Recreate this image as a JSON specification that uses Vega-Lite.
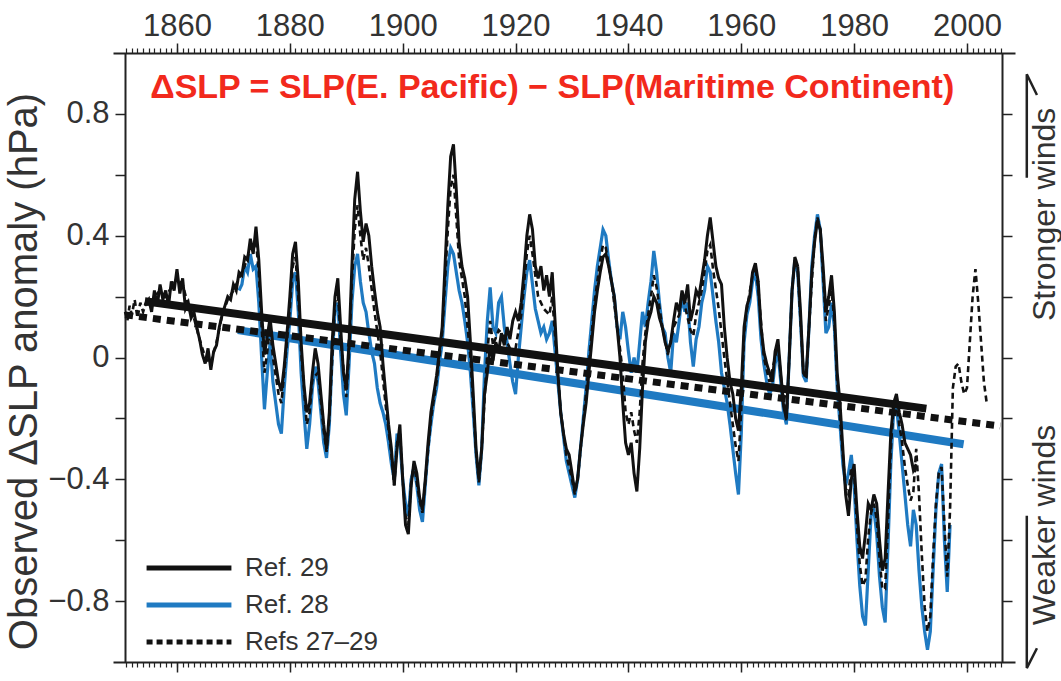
{
"$schema": "https://vega.github.io/schema/vega-lite/v6.json",
"width": 902, "height": 609,
"autosize": {"type": "none"},
"padding": {"left": 113, "top": 53, "right": 46, "bottom": 19},
"background": "white",
"config": {
 "view": {"stroke": null},
 "font": "Liberation Sans",
 "axis": {"domainColor": "#222", "domainWidth": 2, "tickColor": "#222", "tickWidth": 1.5, "labelFont": "Liberation Sans", "labelFontSize": 31, "labelColor": "#333", "titleFont": "Liberation Sans", "titleFontWeight": "normal", "titleColor": "#333", "grid": false}
},
"datasets": {
"ref29": [
{"s":"Ref. 29","year":1854.3,"v":0.17},{"s":"Ref. 29","year":1855,"v":0.19},{"s":"Ref. 29","year":1855.5,"v":0.15},{"s":"Ref. 29","year":1856,"v":0.22},{"s":"Ref. 29","year":1856.5,"v":0.17},{"s":"Ref. 29","year":1857,"v":0.24},{"s":"Ref. 29","year":1857.5,"v":0.19},{"s":"Ref. 29","year":1858,"v":0.22},{"s":"Ref. 29","year":1858.5,"v":0.17},{"s":"Ref. 29","year":1859,"v":0.25},{"s":"Ref. 29","year":1859.5,"v":0.22},{"s":"Ref. 29","year":1860,"v":0.29},{"s":"Ref. 29","year":1860.5,"v":0.21},{"s":"Ref. 29","year":1861,"v":0.26},{"s":"Ref. 29","year":1861.5,"v":0.16},{"s":"Ref. 29","year":1862,"v":0.18},{"s":"Ref. 29","year":1862.5,"v":0.13},{"s":"Ref. 29","year":1863,"v":0.15},{"s":"Ref. 29","year":1863.5,"v":0.10},{"s":"Ref. 29","year":1864,"v":0.06},{"s":"Ref. 29","year":1864.5,"v":0.01},{"s":"Ref. 29","year":1865,"v":-0.02},{"s":"Ref. 29","year":1865.5,"v":0.03},{"s":"Ref. 29","year":1866,"v":-0.04},{"s":"Ref. 29","year":1866.5,"v":0.02},{"s":"Ref. 29","year":1867,"v":0.04},{"s":"Ref. 29","year":1867.5,"v":0.10},{"s":"Ref. 29","year":1868,"v":0.14},{"s":"Ref. 29","year":1868.5,"v":0.17},{"s":"Ref. 29","year":1869,"v":0.20},{"s":"Ref. 29","year":1869.5,"v":0.19},{"s":"Ref. 29","year":1870,"v":0.24},{"s":"Ref. 29","year":1870.5,"v":0.22},{"s":"Ref. 29","year":1871,"v":0.28},{"s":"Ref. 29","year":1871.5,"v":0.27},{"s":"Ref. 29","year":1872,"v":0.33},{"s":"Ref. 29","year":1872.5,"v":0.32},{"s":"Ref. 29","year":1873,"v":0.39},{"s":"Ref. 29","year":1873.5,"v":0.34},{"s":"Ref. 29","year":1874,"v":0.43},{"s":"Ref. 29","year":1874.5,"v":0.32},{"s":"Ref. 29","year":1875,"v":0.15},{"s":"Ref. 29","year":1875.5,"v":0.01},{"s":"Ref. 29","year":1876,"v":0.07},{"s":"Ref. 29","year":1876.5,"v":0.13},{"s":"Ref. 29","year":1877,"v":0.04},{"s":"Ref. 29","year":1877.5,"v":-0.02},{"s":"Ref. 29","year":1878,"v":-0.08},{"s":"Ref. 29","year":1878.5,"v":-0.11},{"s":"Ref. 29","year":1879,"v":-0.03},{"s":"Ref. 29","year":1879.5,"v":0.08},{"s":"Ref. 29","year":1880,"v":0.20},{"s":"Ref. 29","year":1880.5,"v":0.34},{"s":"Ref. 29","year":1881,"v":0.38},{"s":"Ref. 29","year":1881.5,"v":0.25},{"s":"Ref. 29","year":1882,"v":0.05},{"s":"Ref. 29","year":1882.5,"v":-0.09},{"s":"Ref. 29","year":1883,"v":-0.18},{"s":"Ref. 29","year":1883.5,"v":-0.15},{"s":"Ref. 29","year":1884,"v":-0.05},{"s":"Ref. 29","year":1884.5,"v":0.03},{"s":"Ref. 29","year":1885,"v":-0.02},{"s":"Ref. 29","year":1885.5,"v":-0.12},{"s":"Ref. 29","year":1886,"v":-0.22},{"s":"Ref. 29","year":1886.5,"v":-0.30},{"s":"Ref. 29","year":1887,"v":-0.18},{"s":"Ref. 29","year":1887.5,"v":0.05},{"s":"Ref. 29","year":1888,"v":0.20},{"s":"Ref. 29","year":1888.5,"v":0.26},{"s":"Ref. 29","year":1889,"v":0.10},{"s":"Ref. 29","year":1889.5,"v":-0.05},{"s":"Ref. 29","year":1890,"v":-0.10},{"s":"Ref. 29","year":1890.5,"v":0.05},{"s":"Ref. 29","year":1891,"v":0.30},{"s":"Ref. 29","year":1891.5,"v":0.52},{"s":"Ref. 29","year":1892,"v":0.61},{"s":"Ref. 29","year":1892.5,"v":0.48},{"s":"Ref. 29","year":1893,"v":0.38},{"s":"Ref. 29","year":1893.5,"v":0.44},{"s":"Ref. 29","year":1894,"v":0.40},{"s":"Ref. 29","year":1894.5,"v":0.30},{"s":"Ref. 29","year":1895,"v":0.22},{"s":"Ref. 29","year":1895.5,"v":0.15},{"s":"Ref. 29","year":1896,"v":0.10},{"s":"Ref. 29","year":1896.5,"v":-0.02},{"s":"Ref. 29","year":1897,"v":-0.12},{"s":"Ref. 29","year":1897.5,"v":-0.22},{"s":"Ref. 29","year":1898,"v":-0.30},{"s":"Ref. 29","year":1898.5,"v":-0.42},{"s":"Ref. 29","year":1899,"v":-0.30},{"s":"Ref. 29","year":1899.5,"v":-0.22},{"s":"Ref. 29","year":1900,"v":-0.40},{"s":"Ref. 29","year":1900.5,"v":-0.55},{"s":"Ref. 29","year":1901,"v":-0.58},{"s":"Ref. 29","year":1901.5,"v":-0.42},{"s":"Ref. 29","year":1902,"v":-0.34},{"s":"Ref. 29","year":1902.5,"v":-0.38},{"s":"Ref. 29","year":1903,"v":-0.46},{"s":"Ref. 29","year":1903.5,"v":-0.50},{"s":"Ref. 29","year":1904,"v":-0.40},{"s":"Ref. 29","year":1904.5,"v":-0.28},{"s":"Ref. 29","year":1905,"v":-0.18},{"s":"Ref. 29","year":1905.5,"v":-0.12},{"s":"Ref. 29","year":1906,"v":-0.06},{"s":"Ref. 29","year":1906.5,"v":0.02},{"s":"Ref. 29","year":1907,"v":0.10},{"s":"Ref. 29","year":1907.5,"v":0.30},{"s":"Ref. 29","year":1908,"v":0.50},{"s":"Ref. 29","year":1908.5,"v":0.66},{"s":"Ref. 29","year":1909,"v":0.70},{"s":"Ref. 29","year":1909.5,"v":0.55},{"s":"Ref. 29","year":1910,"v":0.38},{"s":"Ref. 29","year":1910.5,"v":0.30},{"s":"Ref. 29","year":1911,"v":0.26},{"s":"Ref. 29","year":1911.5,"v":0.20},{"s":"Ref. 29","year":1912,"v":0.05},{"s":"Ref. 29","year":1912.5,"v":-0.12},{"s":"Ref. 29","year":1913,"v":-0.30},{"s":"Ref. 29","year":1913.5,"v":-0.40},{"s":"Ref. 29","year":1914,"v":-0.30},{"s":"Ref. 29","year":1914.5,"v":-0.12},{"s":"Ref. 29","year":1915,"v":-0.05},{"s":"Ref. 29","year":1915.5,"v":0.04},{"s":"Ref. 29","year":1916,"v":-0.01},{"s":"Ref. 29","year":1916.5,"v":0.05},{"s":"Ref. 29","year":1917,"v":0.02},{"s":"Ref. 29","year":1917.5,"v":0.08},{"s":"Ref. 29","year":1918,"v":0.04},{"s":"Ref. 29","year":1918.5,"v":0.10},{"s":"Ref. 29","year":1919,"v":0.06},{"s":"Ref. 29","year":1919.5,"v":0.12},{"s":"Ref. 29","year":1920,"v":0.15},{"s":"Ref. 29","year":1920.5,"v":0.12},{"s":"Ref. 29","year":1921,"v":0.18},{"s":"Ref. 29","year":1921.5,"v":0.28},{"s":"Ref. 29","year":1922,"v":0.40},{"s":"Ref. 29","year":1922.5,"v":0.47},{"s":"Ref. 29","year":1923,"v":0.42},{"s":"Ref. 29","year":1923.5,"v":0.30},{"s":"Ref. 29","year":1924,"v":0.26},{"s":"Ref. 29","year":1924.5,"v":0.30},{"s":"Ref. 29","year":1925,"v":0.22},{"s":"Ref. 29","year":1925.5,"v":0.27},{"s":"Ref. 29","year":1926,"v":0.20},{"s":"Ref. 29","year":1926.5,"v":0.28},{"s":"Ref. 29","year":1927,"v":0.12},{"s":"Ref. 29","year":1927.5,"v":-0.05},{"s":"Ref. 29","year":1928,"v":-0.18},{"s":"Ref. 29","year":1928.5,"v":-0.25},{"s":"Ref. 29","year":1929,"v":-0.30},{"s":"Ref. 29","year":1929.5,"v":-0.32},{"s":"Ref. 29","year":1930,"v":-0.38},{"s":"Ref. 29","year":1930.5,"v":-0.44},{"s":"Ref. 29","year":1931,"v":-0.40},{"s":"Ref. 29","year":1931.5,"v":-0.30},{"s":"Ref. 29","year":1932,"v":-0.22},{"s":"Ref. 29","year":1932.5,"v":-0.15},{"s":"Ref. 29","year":1933,"v":-0.05},{"s":"Ref. 29","year":1933.5,"v":0.05},{"s":"Ref. 29","year":1934,"v":0.15},{"s":"Ref. 29","year":1934.5,"v":0.22},{"s":"Ref. 29","year":1935,"v":0.28},{"s":"Ref. 29","year":1935.5,"v":0.33},{"s":"Ref. 29","year":1936,"v":0.34},{"s":"Ref. 29","year":1936.5,"v":0.30},{"s":"Ref. 29","year":1937,"v":0.25},{"s":"Ref. 29","year":1937.5,"v":0.20},{"s":"Ref. 29","year":1938,"v":0.10},{"s":"Ref. 29","year":1938.5,"v":0.00},{"s":"Ref. 29","year":1939,"v":-0.15},{"s":"Ref. 29","year":1939.5,"v":-0.28},{"s":"Ref. 29","year":1940,"v":-0.32},{"s":"Ref. 29","year":1940.5,"v":-0.28},{"s":"Ref. 29","year":1941,"v":-0.38},{"s":"Ref. 29","year":1941.5,"v":-0.44},{"s":"Ref. 29","year":1942,"v":-0.30},{"s":"Ref. 29","year":1942.5,"v":-0.10},{"s":"Ref. 29","year":1943,"v":0.05},{"s":"Ref. 29","year":1943.5,"v":0.12},{"s":"Ref. 29","year":1944,"v":0.15},{"s":"Ref. 29","year":1944.5,"v":0.20},{"s":"Ref. 29","year":1945,"v":0.18},{"s":"Ref. 29","year":1945.5,"v":0.13},{"s":"Ref. 29","year":1946,"v":0.10},{"s":"Ref. 29","year":1946.5,"v":0.05},{"s":"Ref. 29","year":1947,"v":0.02},{"s":"Ref. 29","year":1947.5,"v":0.05},{"s":"Ref. 29","year":1948,"v":0.12},{"s":"Ref. 29","year":1948.5,"v":0.18},{"s":"Ref. 29","year":1949,"v":0.15},{"s":"Ref. 29","year":1949.5,"v":0.22},{"s":"Ref. 29","year":1950,"v":0.18},{"s":"Ref. 29","year":1950.5,"v":0.24},{"s":"Ref. 29","year":1951,"v":0.12},{"s":"Ref. 29","year":1951.5,"v":0.16},{"s":"Ref. 29","year":1952,"v":0.22},{"s":"Ref. 29","year":1952.5,"v":0.20},{"s":"Ref. 29","year":1953,"v":0.26},{"s":"Ref. 29","year":1953.5,"v":0.32},{"s":"Ref. 29","year":1954,"v":0.40},{"s":"Ref. 29","year":1954.5,"v":0.46},{"s":"Ref. 29","year":1955,"v":0.38},{"s":"Ref. 29","year":1955.5,"v":0.30},{"s":"Ref. 29","year":1956,"v":0.26},{"s":"Ref. 29","year":1956.5,"v":0.24},{"s":"Ref. 29","year":1957,"v":0.10},{"s":"Ref. 29","year":1957.5,"v":0.00},{"s":"Ref. 29","year":1958,"v":-0.08},{"s":"Ref. 29","year":1958.5,"v":-0.12},{"s":"Ref. 29","year":1959,"v":-0.20},{"s":"Ref. 29","year":1959.5,"v":-0.24},{"s":"Ref. 29","year":1960,"v":-0.10},{"s":"Ref. 29","year":1960.5,"v":0.10},{"s":"Ref. 29","year":1961,"v":0.17},{"s":"Ref. 29","year":1961.5,"v":0.20},{"s":"Ref. 29","year":1962,"v":0.28},{"s":"Ref. 29","year":1962.5,"v":0.31},{"s":"Ref. 29","year":1963,"v":0.25},{"s":"Ref. 29","year":1963.5,"v":0.10},{"s":"Ref. 29","year":1964,"v":0.02},{"s":"Ref. 29","year":1964.5,"v":-0.02},{"s":"Ref. 29","year":1965,"v":-0.05},{"s":"Ref. 29","year":1965.5,"v":-0.08},{"s":"Ref. 29","year":1966,"v":0.02},{"s":"Ref. 29","year":1966.5,"v":0.06},{"s":"Ref. 29","year":1967,"v":-0.05},{"s":"Ref. 29","year":1967.5,"v":-0.16},{"s":"Ref. 29","year":1968,"v":-0.20},{"s":"Ref. 29","year":1968.5,"v":0.00},{"s":"Ref. 29","year":1969,"v":0.22},{"s":"Ref. 29","year":1969.5,"v":0.33},{"s":"Ref. 29","year":1970,"v":0.30},{"s":"Ref. 29","year":1970.5,"v":0.15},{"s":"Ref. 29","year":1971,"v":-0.05},{"s":"Ref. 29","year":1971.5,"v":-0.06},{"s":"Ref. 29","year":1972,"v":0.10},{"s":"Ref. 29","year":1972.5,"v":0.28},{"s":"Ref. 29","year":1973,"v":0.38},{"s":"Ref. 29","year":1973.5,"v":0.45},{"s":"Ref. 29","year":1974,"v":0.42},{"s":"Ref. 29","year":1974.5,"v":0.30},{"s":"Ref. 29","year":1975,"v":0.15},{"s":"Ref. 29","year":1975.5,"v":0.20},{"s":"Ref. 29","year":1976,"v":0.27},{"s":"Ref. 29","year":1976.5,"v":0.15},{"s":"Ref. 29","year":1977,"v":-0.05},{"s":"Ref. 29","year":1977.5,"v":-0.15},{"s":"Ref. 29","year":1978,"v":-0.30},{"s":"Ref. 29","year":1978.5,"v":-0.45},{"s":"Ref. 29","year":1979,"v":-0.52},{"s":"Ref. 29","year":1979.5,"v":-0.40},{"s":"Ref. 29","year":1980,"v":-0.35},{"s":"Ref. 29","year":1980.5,"v":-0.50},{"s":"Ref. 29","year":1981,"v":-0.62},{"s":"Ref. 29","year":1981.5,"v":-0.66},{"s":"Ref. 29","year":1982,"v":-0.58},{"s":"Ref. 29","year":1982.5,"v":-0.48},{"s":"Ref. 29","year":1983,"v":-0.50},{"s":"Ref. 29","year":1983.5,"v":-0.45},{"s":"Ref. 29","year":1984,"v":-0.48},{"s":"Ref. 29","year":1984.5,"v":-0.60},{"s":"Ref. 29","year":1985,"v":-0.70},{"s":"Ref. 29","year":1985.5,"v":-0.66},{"s":"Ref. 29","year":1986,"v":-0.45},{"s":"Ref. 29","year":1986.5,"v":-0.25},{"s":"Ref. 29","year":1987,"v":-0.15},{"s":"Ref. 29","year":1987.5,"v":-0.12},{"s":"Ref. 29","year":1988,"v":-0.18},{"s":"Ref. 29","year":1988.5,"v":-0.22},{"s":"Ref. 29","year":1989,"v":-0.28},{"s":"Ref. 29","year":1989.5,"v":-0.30},{"s":"Ref. 29","year":1990,"v":-0.32},{"s":"Ref. 29","year":1990.5,"v":-0.37},{"s":"Ref. 29","year":1991,"v":-0.35}
],
"ref28": [
{"s":"Ref. 28","year":1871,"v":0.22},{"s":"Ref. 28","year":1871.5,"v":0.24},{"s":"Ref. 28","year":1872,"v":0.30},{"s":"Ref. 28","year":1872.5,"v":0.28},{"s":"Ref. 28","year":1873,"v":0.34},{"s":"Ref. 28","year":1873.5,"v":0.29},{"s":"Ref. 28","year":1874,"v":0.30},{"s":"Ref. 28","year":1874.5,"v":0.18},{"s":"Ref. 28","year":1875,"v":0.00},{"s":"Ref. 28","year":1875.5,"v":-0.17},{"s":"Ref. 28","year":1876,"v":-0.05},{"s":"Ref. 28","year":1876.5,"v":0.05},{"s":"Ref. 28","year":1877,"v":-0.08},{"s":"Ref. 28","year":1877.5,"v":-0.15},{"s":"Ref. 28","year":1878,"v":-0.22},{"s":"Ref. 28","year":1878.5,"v":-0.25},{"s":"Ref. 28","year":1879,"v":-0.10},{"s":"Ref. 28","year":1879.5,"v":0.02},{"s":"Ref. 28","year":1880,"v":0.12},{"s":"Ref. 28","year":1880.5,"v":0.25},{"s":"Ref. 28","year":1881,"v":0.28},{"s":"Ref. 28","year":1881.5,"v":0.15},{"s":"Ref. 28","year":1882,"v":-0.05},{"s":"Ref. 28","year":1882.5,"v":-0.18},{"s":"Ref. 28","year":1883,"v":-0.30},{"s":"Ref. 28","year":1883.5,"v":-0.22},{"s":"Ref. 28","year":1884,"v":-0.10},{"s":"Ref. 28","year":1884.5,"v":-0.03},{"s":"Ref. 28","year":1885,"v":-0.08},{"s":"Ref. 28","year":1885.5,"v":-0.18},{"s":"Ref. 28","year":1886,"v":-0.28},{"s":"Ref. 28","year":1886.5,"v":-0.33},{"s":"Ref. 28","year":1887,"v":-0.22},{"s":"Ref. 28","year":1887.5,"v":0.00},{"s":"Ref. 28","year":1888,"v":0.15},{"s":"Ref. 28","year":1888.5,"v":0.18},{"s":"Ref. 28","year":1889,"v":0.02},{"s":"Ref. 28","year":1889.5,"v":-0.12},{"s":"Ref. 28","year":1890,"v":-0.19},{"s":"Ref. 28","year":1890.5,"v":-0.02},{"s":"Ref. 28","year":1891,"v":0.18},{"s":"Ref. 28","year":1891.5,"v":0.30},{"s":"Ref. 28","year":1892,"v":0.34},{"s":"Ref. 28","year":1892.5,"v":0.25},{"s":"Ref. 28","year":1893,"v":0.18},{"s":"Ref. 28","year":1893.5,"v":0.15},{"s":"Ref. 28","year":1894,"v":0.08},{"s":"Ref. 28","year":1894.5,"v":0.02},{"s":"Ref. 28","year":1895,"v":-0.02},{"s":"Ref. 28","year":1895.5,"v":-0.10},{"s":"Ref. 28","year":1896,"v":-0.15},{"s":"Ref. 28","year":1896.5,"v":-0.18},{"s":"Ref. 28","year":1897,"v":-0.22},{"s":"Ref. 28","year":1897.5,"v":-0.28},{"s":"Ref. 28","year":1898,"v":-0.35},{"s":"Ref. 28","year":1898.5,"v":-0.40},{"s":"Ref. 28","year":1899,"v":-0.25},{"s":"Ref. 28","year":1899.5,"v":-0.28},{"s":"Ref. 28","year":1900,"v":-0.40},{"s":"Ref. 28","year":1900.5,"v":-0.48},{"s":"Ref. 28","year":1901,"v":-0.52},{"s":"Ref. 28","year":1901.5,"v":-0.40},{"s":"Ref. 28","year":1902,"v":-0.36},{"s":"Ref. 28","year":1902.5,"v":-0.42},{"s":"Ref. 28","year":1903,"v":-0.50},{"s":"Ref. 28","year":1903.5,"v":-0.54},{"s":"Ref. 28","year":1904,"v":-0.42},{"s":"Ref. 28","year":1904.5,"v":-0.30},{"s":"Ref. 28","year":1905,"v":-0.22},{"s":"Ref. 28","year":1905.5,"v":-0.15},{"s":"Ref. 28","year":1906,"v":-0.10},{"s":"Ref. 28","year":1906.5,"v":-0.02},{"s":"Ref. 28","year":1907,"v":0.05},{"s":"Ref. 28","year":1907.5,"v":0.18},{"s":"Ref. 28","year":1908,"v":0.30},{"s":"Ref. 28","year":1908.5,"v":0.36},{"s":"Ref. 28","year":1909,"v":0.34},{"s":"Ref. 28","year":1909.5,"v":0.28},{"s":"Ref. 28","year":1910,"v":0.22},{"s":"Ref. 28","year":1910.5,"v":0.18},{"s":"Ref. 28","year":1911,"v":0.12},{"s":"Ref. 28","year":1911.5,"v":0.05},{"s":"Ref. 28","year":1912,"v":-0.05},{"s":"Ref. 28","year":1912.5,"v":-0.18},{"s":"Ref. 28","year":1913,"v":-0.32},{"s":"Ref. 28","year":1913.5,"v":-0.42},{"s":"Ref. 28","year":1914,"v":-0.30},{"s":"Ref. 28","year":1914.5,"v":-0.05},{"s":"Ref. 28","year":1915,"v":0.12},{"s":"Ref. 28","year":1915.5,"v":0.23},{"s":"Ref. 28","year":1916,"v":0.10},{"s":"Ref. 28","year":1916.5,"v":0.08},{"s":"Ref. 28","year":1917,"v":0.18},{"s":"Ref. 28","year":1917.5,"v":0.20},{"s":"Ref. 28","year":1918,"v":0.10},{"s":"Ref. 28","year":1918.5,"v":0.05},{"s":"Ref. 28","year":1919,"v":-0.02},{"s":"Ref. 28","year":1919.5,"v":-0.08},{"s":"Ref. 28","year":1920,"v":-0.12},{"s":"Ref. 28","year":1920.5,"v":0.00},{"s":"Ref. 28","year":1921,"v":0.10},{"s":"Ref. 28","year":1921.5,"v":0.20},{"s":"Ref. 28","year":1922,"v":0.28},{"s":"Ref. 28","year":1922.5,"v":0.32},{"s":"Ref. 28","year":1923,"v":0.24},{"s":"Ref. 28","year":1923.5,"v":0.16},{"s":"Ref. 28","year":1924,"v":0.12},{"s":"Ref. 28","year":1924.5,"v":0.08},{"s":"Ref. 28","year":1925,"v":0.10},{"s":"Ref. 28","year":1925.5,"v":0.06},{"s":"Ref. 28","year":1926,"v":0.08},{"s":"Ref. 28","year":1926.5,"v":0.12},{"s":"Ref. 28","year":1927,"v":0.02},{"s":"Ref. 28","year":1927.5,"v":-0.08},{"s":"Ref. 28","year":1928,"v":-0.18},{"s":"Ref. 28","year":1928.5,"v":-0.26},{"s":"Ref. 28","year":1929,"v":-0.34},{"s":"Ref. 28","year":1929.5,"v":-0.38},{"s":"Ref. 28","year":1930,"v":-0.42},{"s":"Ref. 28","year":1930.5,"v":-0.46},{"s":"Ref. 28","year":1931,"v":-0.40},{"s":"Ref. 28","year":1931.5,"v":-0.30},{"s":"Ref. 28","year":1932,"v":-0.20},{"s":"Ref. 28","year":1932.5,"v":-0.10},{"s":"Ref. 28","year":1933,"v":0.02},{"s":"Ref. 28","year":1933.5,"v":0.12},{"s":"Ref. 28","year":1934,"v":0.22},{"s":"Ref. 28","year":1934.5,"v":0.30},{"s":"Ref. 28","year":1935,"v":0.36},{"s":"Ref. 28","year":1935.5,"v":0.42},{"s":"Ref. 28","year":1936,"v":0.40},{"s":"Ref. 28","year":1936.5,"v":0.32},{"s":"Ref. 28","year":1937,"v":0.25},{"s":"Ref. 28","year":1937.5,"v":0.20},{"s":"Ref. 28","year":1938,"v":0.10},{"s":"Ref. 28","year":1938.5,"v":0.06},{"s":"Ref. 28","year":1939,"v":0.15},{"s":"Ref. 28","year":1939.5,"v":0.10},{"s":"Ref. 28","year":1940,"v":0.02},{"s":"Ref. 28","year":1940.5,"v":-0.05},{"s":"Ref. 28","year":1941,"v":0.00},{"s":"Ref. 28","year":1941.5,"v":-0.05},{"s":"Ref. 28","year":1942,"v":0.05},{"s":"Ref. 28","year":1942.5,"v":0.15},{"s":"Ref. 28","year":1943,"v":0.10},{"s":"Ref. 28","year":1943.5,"v":0.18},{"s":"Ref. 28","year":1944,"v":0.25},{"s":"Ref. 28","year":1944.5,"v":0.35},{"s":"Ref. 28","year":1945,"v":0.28},{"s":"Ref. 28","year":1945.5,"v":0.18},{"s":"Ref. 28","year":1946,"v":0.10},{"s":"Ref. 28","year":1946.5,"v":0.08},{"s":"Ref. 28","year":1947,"v":0.00},{"s":"Ref. 28","year":1947.5,"v":-0.05},{"s":"Ref. 28","year":1948,"v":0.08},{"s":"Ref. 28","year":1948.5,"v":0.05},{"s":"Ref. 28","year":1949,"v":0.12},{"s":"Ref. 28","year":1949.5,"v":0.20},{"s":"Ref. 28","year":1950,"v":0.15},{"s":"Ref. 28","year":1950.5,"v":0.18},{"s":"Ref. 28","year":1951,"v":0.05},{"s":"Ref. 28","year":1951.5,"v":-0.03},{"s":"Ref. 28","year":1952,"v":0.06},{"s":"Ref. 28","year":1952.5,"v":0.10},{"s":"Ref. 28","year":1953,"v":0.18},{"s":"Ref. 28","year":1953.5,"v":0.22},{"s":"Ref. 28","year":1954,"v":0.30},{"s":"Ref. 28","year":1954.5,"v":0.28},{"s":"Ref. 28","year":1955,"v":0.20},{"s":"Ref. 28","year":1955.5,"v":0.12},{"s":"Ref. 28","year":1956,"v":0.05},{"s":"Ref. 28","year":1956.5,"v":-0.05},{"s":"Ref. 28","year":1957,"v":-0.10},{"s":"Ref. 28","year":1957.5,"v":-0.15},{"s":"Ref. 28","year":1958,"v":-0.22},{"s":"Ref. 28","year":1958.5,"v":-0.30},{"s":"Ref. 28","year":1959,"v":-0.38},{"s":"Ref. 28","year":1959.5,"v":-0.45},{"s":"Ref. 28","year":1960,"v":-0.25},{"s":"Ref. 28","year":1960.5,"v":0.05},{"s":"Ref. 28","year":1961,"v":0.14},{"s":"Ref. 28","year":1961.5,"v":0.18},{"s":"Ref. 28","year":1962,"v":0.25},{"s":"Ref. 28","year":1962.5,"v":0.28},{"s":"Ref. 28","year":1963,"v":0.20},{"s":"Ref. 28","year":1963.5,"v":0.06},{"s":"Ref. 28","year":1964,"v":-0.02},{"s":"Ref. 28","year":1964.5,"v":-0.08},{"s":"Ref. 28","year":1965,"v":-0.12},{"s":"Ref. 28","year":1965.5,"v":-0.10},{"s":"Ref. 28","year":1966,"v":-0.02},{"s":"Ref. 28","year":1966.5,"v":0.02},{"s":"Ref. 28","year":1967,"v":-0.08},{"s":"Ref. 28","year":1967.5,"v":-0.18},{"s":"Ref. 28","year":1968,"v":-0.22},{"s":"Ref. 28","year":1968.5,"v":0.00},{"s":"Ref. 28","year":1969,"v":0.22},{"s":"Ref. 28","year":1969.5,"v":0.32},{"s":"Ref. 28","year":1970,"v":0.28},{"s":"Ref. 28","year":1970.5,"v":0.12},{"s":"Ref. 28","year":1971,"v":-0.06},{"s":"Ref. 28","year":1971.5,"v":-0.08},{"s":"Ref. 28","year":1972,"v":0.10},{"s":"Ref. 28","year":1972.5,"v":0.30},{"s":"Ref. 28","year":1973,"v":0.40},{"s":"Ref. 28","year":1973.5,"v":0.47},{"s":"Ref. 28","year":1974,"v":0.42},{"s":"Ref. 28","year":1974.5,"v":0.25},{"s":"Ref. 28","year":1975,"v":0.08},{"s":"Ref. 28","year":1975.5,"v":0.10},{"s":"Ref. 28","year":1976,"v":0.18},{"s":"Ref. 28","year":1976.5,"v":0.10},{"s":"Ref. 28","year":1977,"v":-0.10},{"s":"Ref. 28","year":1977.5,"v":-0.22},{"s":"Ref. 28","year":1978,"v":-0.35},{"s":"Ref. 28","year":1978.5,"v":-0.42},{"s":"Ref. 28","year":1979,"v":-0.38},{"s":"Ref. 28","year":1979.5,"v":-0.32},{"s":"Ref. 28","year":1980,"v":-0.42},{"s":"Ref. 28","year":1980.5,"v":-0.60},{"s":"Ref. 28","year":1981,"v":-0.75},{"s":"Ref. 28","year":1981.5,"v":-0.85},{"s":"Ref. 28","year":1982,"v":-0.88},{"s":"Ref. 28","year":1982.5,"v":-0.70},{"s":"Ref. 28","year":1983,"v":-0.52},{"s":"Ref. 28","year":1983.5,"v":-0.50},{"s":"Ref. 28","year":1984,"v":-0.58},{"s":"Ref. 28","year":1984.5,"v":-0.72},{"s":"Ref. 28","year":1985,"v":-0.82},{"s":"Ref. 28","year":1985.5,"v":-0.87},{"s":"Ref. 28","year":1986,"v":-0.62},{"s":"Ref. 28","year":1986.5,"v":-0.35},{"s":"Ref. 28","year":1987,"v":-0.18},{"s":"Ref. 28","year":1987.5,"v":-0.16},{"s":"Ref. 28","year":1988,"v":-0.25},{"s":"Ref. 28","year":1988.5,"v":-0.35},{"s":"Ref. 28","year":1989,"v":-0.45},{"s":"Ref. 28","year":1989.5,"v":-0.55},{"s":"Ref. 28","year":1990,"v":-0.62},{"s":"Ref. 28","year":1990.5,"v":-0.50},{"s":"Ref. 28","year":1991,"v":-0.55},{"s":"Ref. 28","year":1991.5,"v":-0.70},{"s":"Ref. 28","year":1992,"v":-0.82},{"s":"Ref. 28","year":1992.5,"v":-0.90},{"s":"Ref. 28","year":1993,"v":-0.96},{"s":"Ref. 28","year":1993.5,"v":-0.90},{"s":"Ref. 28","year":1994,"v":-0.70},{"s":"Ref. 28","year":1994.5,"v":-0.50},{"s":"Ref. 28","year":1995,"v":-0.38},{"s":"Ref. 28","year":1995.5,"v":-0.35},{"s":"Ref. 28","year":1996,"v":-0.60},{"s":"Ref. 28","year":1996.5,"v":-0.77},{"s":"Ref. 28","year":1997,"v":-0.55}
],
"refs": [
{"s":"Refs 27–29","year":1850.8,"v":0.15},{"s":"Refs 27–29","year":1851.2,"v":0.12},{"s":"Refs 27–29","year":1851.6,"v":0.17},{"s":"Refs 27–29","year":1852,"v":0.14},{"s":"Refs 27–29","year":1852.5,"v":0.19},{"s":"Refs 27–29","year":1853,"v":0.13},{"s":"Refs 27–29","year":1853.5,"v":0.18},{"s":"Refs 27–29","year":1854,"v":0.15},{"s":"Refs 27–29","year":1854.5,"v":0.18},{"s":"Refs 27–29","year":1855,"v":0.17},{"s":"Refs 27–29","year":1856,"v":0.20},{"s":"Refs 27–29","year":1857,"v":0.22},{"s":"Refs 27–29","year":1858,"v":0.20},{"s":"Refs 27–29","year":1859,"v":0.23},{"s":"Refs 27–29","year":1860,"v":0.26},{"s":"Refs 27–29","year":1861,"v":0.24},{"s":"Refs 27–29","year":1862,"v":0.17},{"s":"Refs 27–29","year":1863,"v":0.13},{"s":"Refs 27–29","year":1864,"v":0.06},{"s":"Refs 27–29","year":1865,"v":0.00},{"s":"Refs 27–29","year":1866,"v":-0.02},{"s":"Refs 27–29","year":1867,"v":0.05},{"s":"Refs 27–29","year":1868,"v":0.14},{"s":"Refs 27–29","year":1869,"v":0.19},{"s":"Refs 27–29","year":1870,"v":0.22},{"s":"Refs 27–29","year":1871,"v":0.26},{"s":"Refs 27–29","year":1872,"v":0.30},{"s":"Refs 27–29","year":1873,"v":0.36},{"s":"Refs 27–29","year":1874,"v":0.38},{"s":"Refs 27–29","year":1874.5,"v":0.28},{"s":"Refs 27–29","year":1875,"v":0.10},{"s":"Refs 27–29","year":1875.5,"v":-0.05},{"s":"Refs 27–29","year":1876,"v":0.02},{"s":"Refs 27–29","year":1876.5,"v":0.10},{"s":"Refs 27–29","year":1877,"v":0.00},{"s":"Refs 27–29","year":1878,"v":-0.12},{"s":"Refs 27–29","year":1878.5,"v":-0.15},{"s":"Refs 27–29","year":1879,"v":-0.05},{"s":"Refs 27–29","year":1880,"v":0.16},{"s":"Refs 27–29","year":1880.5,"v":0.30},{"s":"Refs 27–29","year":1881,"v":0.33},{"s":"Refs 27–29","year":1881.5,"v":0.20},{"s":"Refs 27–29","year":1882,"v":0.02},{"s":"Refs 27–29","year":1883,"v":-0.22},{"s":"Refs 27–29","year":1883.5,"v":-0.18},{"s":"Refs 27–29","year":1884,"v":-0.07},{"s":"Refs 27–29","year":1885,"v":-0.05},{"s":"Refs 27–29","year":1886,"v":-0.24},{"s":"Refs 27–29","year":1886.5,"v":-0.31},{"s":"Refs 27–29","year":1887,"v":-0.20},{"s":"Refs 27–29","year":1888,"v":0.18},{"s":"Refs 27–29","year":1888.5,"v":0.22},{"s":"Refs 27–29","year":1889,"v":0.06},{"s":"Refs 27–29","year":1890,"v":-0.13},{"s":"Refs 27–29","year":1890.5,"v":0.02},{"s":"Refs 27–29","year":1891,"v":0.25},{"s":"Refs 27–29","year":1891.5,"v":0.42},{"s":"Refs 27–29","year":1892,"v":0.50},{"s":"Refs 27–29","year":1892.5,"v":0.40},{"s":"Refs 27–29","year":1893,"v":0.32},{"s":"Refs 27–29","year":1893.5,"v":0.36},{"s":"Refs 27–29","year":1894,"v":0.30},{"s":"Refs 27–29","year":1895,"v":0.15},{"s":"Refs 27–29","year":1896,"v":0.02},{"s":"Refs 27–29","year":1897,"v":-0.16},{"s":"Refs 27–29","year":1898,"v":-0.32},{"s":"Refs 27–29","year":1898.5,"v":-0.42},{"s":"Refs 27–29","year":1899,"v":-0.28},{"s":"Refs 27–29","year":1899.5,"v":-0.24},{"s":"Refs 27–29","year":1900,"v":-0.40},{"s":"Refs 27–29","year":1900.5,"v":-0.52},{"s":"Refs 27–29","year":1901,"v":-0.55},{"s":"Refs 27–29","year":1901.5,"v":-0.41},{"s":"Refs 27–29","year":1902,"v":-0.35},{"s":"Refs 27–29","year":1903,"v":-0.47},{"s":"Refs 27–29","year":1903.5,"v":-0.51},{"s":"Refs 27–29","year":1904,"v":-0.41},{"s":"Refs 27–29","year":1905,"v":-0.20},{"s":"Refs 27–29","year":1906,"v":-0.08},{"s":"Refs 27–29","year":1907,"v":0.08},{"s":"Refs 27–29","year":1908,"v":0.42},{"s":"Refs 27–29","year":1908.5,"v":0.56},{"s":"Refs 27–29","year":1909,"v":0.60},{"s":"Refs 27–29","year":1909.5,"v":0.46},{"s":"Refs 27–29","year":1910,"v":0.32},{"s":"Refs 27–29","year":1911,"v":0.20},{"s":"Refs 27–29","year":1912,"v":0.00},{"s":"Refs 27–29","year":1913,"v":-0.31},{"s":"Refs 27–29","year":1913.5,"v":-0.41},{"s":"Refs 27–29","year":1914,"v":-0.30},{"s":"Refs 27–29","year":1915,"v":0.02},{"s":"Refs 27–29","year":1915.5,"v":0.12},{"s":"Refs 27–29","year":1916,"v":0.04},{"s":"Refs 27–29","year":1917,"v":0.09},{"s":"Refs 27–29","year":1918,"v":0.07},{"s":"Refs 27–29","year":1919,"v":0.03},{"s":"Refs 27–29","year":1920,"v":0.03},{"s":"Refs 27–29","year":1921,"v":0.14},{"s":"Refs 27–29","year":1922,"v":0.34},{"s":"Refs 27–29","year":1922.5,"v":0.40},{"s":"Refs 27–29","year":1923,"v":0.34},{"s":"Refs 27–29","year":1924,"v":0.20},{"s":"Refs 27–29","year":1925,"v":0.16},{"s":"Refs 27–29","year":1926,"v":0.14},{"s":"Refs 27–29","year":1926.5,"v":0.20},{"s":"Refs 27–29","year":1927,"v":0.07},{"s":"Refs 27–29","year":1928,"v":-0.18},{"s":"Refs 27–29","year":1929,"v":-0.32},{"s":"Refs 27–29","year":1930,"v":-0.40},{"s":"Refs 27–29","year":1930.5,"v":-0.45},{"s":"Refs 27–29","year":1931,"v":-0.40},{"s":"Refs 27–29","year":1932,"v":-0.21},{"s":"Refs 27–29","year":1933,"v":-0.02},{"s":"Refs 27–29","year":1934,"v":0.18},{"s":"Refs 27–29","year":1935,"v":0.32},{"s":"Refs 27–29","year":1935.5,"v":0.37},{"s":"Refs 27–29","year":1936,"v":0.36},{"s":"Refs 27–29","year":1937,"v":0.25},{"s":"Refs 27–29","year":1938,"v":0.10},{"s":"Refs 27–29","year":1938.5,"v":0.03},{"s":"Refs 27–29","year":1939,"v":-0.05},{"s":"Refs 27–29","year":1939.5,"v":-0.18},{"s":"Refs 27–29","year":1940,"v":-0.22},{"s":"Refs 27–29","year":1940.5,"v":-0.18},{"s":"Refs 27–29","year":1941,"v":-0.24},{"s":"Refs 27–29","year":1941.5,"v":-0.28},{"s":"Refs 27–29","year":1942,"v":-0.18},{"s":"Refs 27–29","year":1942.5,"v":-0.02},{"s":"Refs 27–29","year":1943,"v":0.08},{"s":"Refs 27–29","year":1944,"v":0.20},{"s":"Refs 27–29","year":1944.5,"v":0.27},{"s":"Refs 27–29","year":1945,"v":0.23},{"s":"Refs 27–29","year":1946,"v":0.10},{"s":"Refs 27–29","year":1947,"v":0.01},{"s":"Refs 27–29","year":1948,"v":0.10},{"s":"Refs 27–29","year":1949,"v":0.14},{"s":"Refs 27–29","year":1949.5,"v":0.21},{"s":"Refs 27–29","year":1950,"v":0.17},{"s":"Refs 27–29","year":1951,"v":0.09},{"s":"Refs 27–29","year":1951.5,"v":0.07},{"s":"Refs 27–29","year":1952,"v":0.14},{"s":"Refs 27–29","year":1953,"v":0.22},{"s":"Refs 27–29","year":1954,"v":0.35},{"s":"Refs 27–29","year":1954.5,"v":0.37},{"s":"Refs 27–29","year":1955,"v":0.29},{"s":"Refs 27–29","year":1956,"v":0.16},{"s":"Refs 27–29","year":1957,"v":0.00},{"s":"Refs 27–29","year":1958,"v":-0.15},{"s":"Refs 27–29","year":1959,"v":-0.29},{"s":"Refs 27–29","year":1959.5,"v":-0.34},{"s":"Refs 27–29","year":1960,"v":-0.17},{"s":"Refs 27–29","year":1960.5,"v":0.08},{"s":"Refs 27–29","year":1961,"v":0.16},{"s":"Refs 27–29","year":1962,"v":0.27},{"s":"Refs 27–29","year":1962.5,"v":0.30},{"s":"Refs 27–29","year":1963,"v":0.23},{"s":"Refs 27–29","year":1964,"v":0.00},{"s":"Refs 27–29","year":1965,"v":-0.08},{"s":"Refs 27–29","year":1966,"v":0.00},{"s":"Refs 27–29","year":1966.5,"v":0.04},{"s":"Refs 27–29","year":1967,"v":-0.06},{"s":"Refs 27–29","year":1968,"v":-0.21},{"s":"Refs 27–29","year":1968.5,"v":0.00},{"s":"Refs 27–29","year":1969,"v":0.22},{"s":"Refs 27–29","year":1969.5,"v":0.32},{"s":"Refs 27–29","year":1970,"v":0.29},{"s":"Refs 27–29","year":1971,"v":-0.05},{"s":"Refs 27–29","year":1971.5,"v":-0.07},{"s":"Refs 27–29","year":1972,"v":0.10},{"s":"Refs 27–29","year":1973,"v":0.39},{"s":"Refs 27–29","year":1973.5,"v":0.46},{"s":"Refs 27–29","year":1974,"v":0.42},{"s":"Refs 27–29","year":1975,"v":0.12},{"s":"Refs 27–29","year":1976,"v":0.22},{"s":"Refs 27–29","year":1976.5,"v":0.12},{"s":"Refs 27–29","year":1977,"v":-0.08},{"s":"Refs 27–29","year":1978,"v":-0.32},{"s":"Refs 27–29","year":1978.5,"v":-0.43},{"s":"Refs 27–29","year":1979,"v":-0.45},{"s":"Refs 27–29","year":1979.5,"v":-0.36},{"s":"Refs 27–29","year":1980,"v":-0.38},{"s":"Refs 27–29","year":1980.5,"v":-0.55},{"s":"Refs 27–29","year":1981,"v":-0.68},{"s":"Refs 27–29","year":1981.5,"v":-0.75},{"s":"Refs 27–29","year":1982,"v":-0.73},{"s":"Refs 27–29","year":1982.5,"v":-0.59},{"s":"Refs 27–29","year":1983,"v":-0.51},{"s":"Refs 27–29","year":1983.5,"v":-0.48},{"s":"Refs 27–29","year":1984,"v":-0.53},{"s":"Refs 27–29","year":1984.5,"v":-0.66},{"s":"Refs 27–29","year":1985,"v":-0.76},{"s":"Refs 27–29","year":1985.5,"v":-0.76},{"s":"Refs 27–29","year":1986,"v":-0.54},{"s":"Refs 27–29","year":1986.5,"v":-0.30},{"s":"Refs 27–29","year":1987,"v":-0.16},{"s":"Refs 27–29","year":1987.5,"v":-0.14},{"s":"Refs 27–29","year":1988,"v":-0.22},{"s":"Refs 27–29","year":1988.5,"v":-0.28},{"s":"Refs 27–29","year":1989,"v":-0.36},{"s":"Refs 27–29","year":1989.5,"v":-0.42},{"s":"Refs 27–29","year":1990,"v":-0.47},{"s":"Refs 27–29","year":1990.5,"v":-0.44},{"s":"Refs 27–29","year":1991,"v":-0.30},{"s":"Refs 27–29","year":1991.5,"v":-0.45},{"s":"Refs 27–29","year":1992,"v":-0.65},{"s":"Refs 27–29","year":1992.5,"v":-0.82},{"s":"Refs 27–29","year":1993,"v":-0.90},{"s":"Refs 27–29","year":1993.5,"v":-0.85},{"s":"Refs 27–29","year":1994,"v":-0.65},{"s":"Refs 27–29","year":1994.5,"v":-0.48},{"s":"Refs 27–29","year":1995,"v":-0.38},{"s":"Refs 27–29","year":1995.5,"v":-0.36},{"s":"Refs 27–29","year":1996,"v":-0.55},{"s":"Refs 27–29","year":1996.5,"v":-0.72},{"s":"Refs 27–29","year":1997,"v":-0.50},{"s":"Refs 27–29","year":1997.5,"v":-0.10},{"s":"Refs 27–29","year":1998,"v":-0.03},{"s":"Refs 27–29","year":1998.5,"v":-0.02},{"s":"Refs 27–29","year":1999,"v":-0.08},{"s":"Refs 27–29","year":1999.5,"v":-0.12},{"s":"Refs 27–29","year":2000,"v":-0.10},{"s":"Refs 27–29","year":2000.5,"v":0.05},{"s":"Refs 27–29","year":2001,"v":0.20},{"s":"Refs 27–29","year":2001.5,"v":0.29},{"s":"Refs 27–29","year":2002,"v":0.18},{"s":"Refs 27–29","year":2002.5,"v":0.05},{"s":"Refs 27–29","year":2003,"v":-0.08},{"s":"Refs 27–29","year":2003.5,"v":-0.15}
],
"trends": [
{"s":"Ref. 29","year":1854.3,"v":0.185},{"s":"Ref. 29","year":1992.8,"v":-0.168},
{"s":"Ref. 28","year":1870.8,"v":0.09},{"s":"Ref. 28","year":1999.4,"v":-0.285},
{"s":"Refs 27–29","year":1850.8,"v":0.14},{"s":"Refs 27–29","year":2005.9,"v":-0.225}
],
"heading": [
{"label":"ΔSLP = SLP(E. Pacific) − SLP(Maritime Continent)","year":1926.5,"v":0.885}
],
"notes": [
{"label":"Stronger winds","year":2013.8,"v":0.47},
{"label":"Weaker winds","year":2013.8,"v":-0.55}
],
"arrows": [
{"a":"up","year":2010.6,"v":0.59},{"a":"up","year":2010.6,"v":0.93},{"a":"up","year":2012.4,"v":0.862},
{"a":"down","year":2010.6,"v":-0.52},{"a":"down","year":2010.6,"v":-1.02},{"a":"down","year":2012.4,"v":-0.955}
]
},
"layer": [
{
 "data": {"name": "ref28"},
 "mark": {"type": "line", "strokeWidth": 3.2},
 "encoding": {
  "x": {"field": "year", "type": "quantitative", "scale": {"domain": [1848.66, 2008.51], "nice": false, "zero": false},
        "axis": {"orient": "top", "values": [1860,1880,1900,1920,1940,1960,1980,2000], "tickSize": 10, "labelPadding": 1, "format": "d", "title": null, "domain": true, "labelFlush": false, "labelOverlap": false}},
  "y": {"field": "v", "type": "quantitative", "scale": {"domain": [-1, 1], "nice": false, "zero": false},
        "axis": {"orient": "left", "values": [-0.8,-0.6,-0.4,-0.2,0,0.2,0.4,0.6,0.8], "tickSize": 10, "offset": -12, "labelPadding": 6,
                 "labelExpr": "abs(round(datum.value*10)) % 4 === 0 ? (round(datum.value*10) === 0 ? '0' : format(datum.value, '.1f')) : ''",
                 "title": "Observed ΔSLP anomaly (hPa)", "titleFontSize": 40, "titlePadding": 3, "titleY": 318, "domain": true}},
  "color": {"field": "s", "type": "nominal", "scale": {"domain": ["Ref. 29", "Ref. 28", "Refs 27–29"], "range": ["#111111", "#1f7ac2", "#111111"]},
            "legend": {"orient": "none", "legendX": 59, "legendY": 498, "title": null, "symbolType": "M-3,0H3", "symbolSize": 800, "symbolStrokeWidth": 5, "labelFontSize": 26, "labelColor": "#333", "labelFont": "Liberation Sans", "rowPadding": 7, "labelOffset": 39}},
  "strokeDash": {"field": "s", "type": "nominal", "scale": {"domain": ["Ref. 29", "Ref. 28", "Refs 27–29"], "range": [[1,0],[1,0],[6,4]]},
            "legend": {"orient": "none", "legendX": 59, "legendY": 498, "title": null, "symbolType": "M-3,0H3", "symbolSize": 800, "symbolStrokeWidth": 5, "labelFontSize": 26, "labelColor": "#333", "labelFont": "Liberation Sans", "rowPadding": 7, "labelOffset": 39}}
 }
},
{
 "data": {"name": "trends"},
 "transform": [{"filter": "datum.s === 'Ref. 28'"}],
 "mark": {"type": "line", "strokeWidth": 8, "color": "#1f7ac2"},
 "encoding": {
  "x": {"field": "year", "type": "quantitative", "scale": {"domain": [1848.66, 2008.51], "nice": false, "zero": false},
        "axis": {"orient": "top", "values": [1851,1852,1853,1854,1855,1856,1857,1858,1859,1860,1861,1862,1863,1864,1865,1866,1867,1868,1869,1870,1871,1872,1873,1874,1875,1876,1877,1878,1879,1880,1881,1882,1883,1884,1885,1886,1887,1888,1889,1890,1891,1892,1893,1894,1895,1896,1897,1898,1899,1900,1901,1902,1903,1904,1905,1906,1907,1908,1909,1910,1911,1912,1913,1914,1915,1916,1917,1918,1919,1920,1921,1922,1923,1924,1925,1926,1927,1928,1929,1930,1931,1932,1933,1934,1935,1936,1937,1938,1939,1940,1941,1942,1943,1944,1945,1946,1947,1948,1949,1950,1951,1952,1953,1954,1955,1956,1957,1958,1959,1960,1961,1962,1963,1964,1965,1966,1967,1968,1969,1970,1971,1972,1973,1974,1975,1976,1977,1978,1979,1980,1981,1982,1983,1984,1985,1986,1987,1988,1989,1990,1991,1992,1993,1994,1995,1996,1997,1998,1999,2000,2001,2002,2003,2004,2005,2006], "tickSize": 5, "tickWidth": 1.2, "labels": false, "domain": false, "title": null}},
  "y": {"field": "v", "type": "quantitative", "scale": {"domain": [-1, 1], "nice": false, "zero": false},
        "axis": {"orient": "right", "values": [-0.8,-0.6,-0.4,-0.2,0,0.2,0.4,0.6,0.8], "tickSize": 10, "offset": -13, "labels": false, "title": null, "domain": true}}
 }
},
{
 "data": {"name": "ref29"},
 "mark": {"type": "line", "strokeWidth": 3},
 "encoding": {
  "x": {"field": "year", "type": "quantitative", "scale": {"domain": [1848.66, 2008.51], "nice": false, "zero": false},
        "axis": {"orient": "bottom", "values": [1860,1880,1900,1920,1940,1960,1980,2000], "tickSize": 10, "labels": false, "title": null, "domain": true}},
  "y": {"field": "v", "type": "quantitative", "scale": {"domain": [-1, 1], "nice": false, "zero": false}, "axis": null},
  "color": {"field": "s", "type": "nominal", "scale": {"domain": ["Ref. 29", "Ref. 28", "Refs 27–29"], "range": ["#111111", "#1f7ac2", "#111111"]}},
  "strokeDash": {"field": "s", "type": "nominal", "scale": {"domain": ["Ref. 29", "Ref. 28", "Refs 27–29"], "range": [[1,0],[1,0],[6,4]]}}
 }
},
{
 "data": {"name": "refs"},
 "mark": {"type": "line", "strokeWidth": 2.6},
 "encoding": {
  "x": {"field": "year", "type": "quantitative", "scale": {"domain": [1848.66, 2008.51], "nice": false, "zero": false},
        "axis": {"orient": "bottom", "values": [1851,1852,1853,1854,1855,1856,1857,1858,1859,1860,1861,1862,1863,1864,1865,1866,1867,1868,1869,1870,1871,1872,1873,1874,1875,1876,1877,1878,1879,1880,1881,1882,1883,1884,1885,1886,1887,1888,1889,1890,1891,1892,1893,1894,1895,1896,1897,1898,1899,1900,1901,1902,1903,1904,1905,1906,1907,1908,1909,1910,1911,1912,1913,1914,1915,1916,1917,1918,1919,1920,1921,1922,1923,1924,1925,1926,1927,1928,1929,1930,1931,1932,1933,1934,1935,1936,1937,1938,1939,1940,1941,1942,1943,1944,1945,1946,1947,1948,1949,1950,1951,1952,1953,1954,1955,1956,1957,1958,1959,1960,1961,1962,1963,1964,1965,1966,1967,1968,1969,1970,1971,1972,1973,1974,1975,1976,1977,1978,1979,1980,1981,1982,1983,1984,1985,1986,1987,1988,1989,1990,1991,1992,1993,1994,1995,1996,1997,1998,1999,2000,2001,2002,2003,2004,2005,2006], "tickSize": 5, "tickWidth": 1.2, "labels": false, "domain": false, "title": null}},
  "y": {"field": "v", "type": "quantitative", "scale": {"domain": [-1, 1], "nice": false, "zero": false}, "axis": null},
  "color": {"field": "s", "type": "nominal", "scale": {"domain": ["Ref. 29", "Ref. 28", "Refs 27–29"], "range": ["#111111", "#1f7ac2", "#111111"]}},
  "strokeDash": {"field": "s", "type": "nominal", "scale": {"domain": ["Ref. 29", "Ref. 28", "Refs 27–29"], "range": [[1,0],[1,0],[6,4]]}}
 }
},
{
 "data": {"name": "trends"},
 "transform": [{"filter": "datum.s === 'Ref. 29'"}],
 "mark": {"type": "line", "strokeWidth": 8, "color": "#111111"},
 "encoding": {
  "x": {"field": "year", "type": "quantitative", "scale": {"domain": [1848.66, 2008.51], "nice": false, "zero": false}, "axis": null},
  "y": {"field": "v", "type": "quantitative", "scale": {"domain": [-1, 1], "nice": false, "zero": false}, "axis": null}
 }
},
{
 "data": {"name": "trends"},
 "transform": [{"filter": "datum.s === 'Refs 27–29'"}],
 "mark": {"type": "line", "strokeWidth": 7, "color": "#111111", "strokeDash": [8, 6]},
 "encoding": {
  "x": {"field": "year", "type": "quantitative", "scale": {"domain": [1848.66, 2008.51], "nice": false, "zero": false}, "axis": null},
  "y": {"field": "v", "type": "quantitative", "scale": {"domain": [-1, 1], "nice": false, "zero": false}, "axis": null}
 }
},
{
 "mark": {"type": "rule", "color": "#111111", "strokeWidth": 1.6},
 "encoding": {
  "x": {"datum": 1850.78, "type": "quantitative", "scale": {"domain": [1848.66, 2008.51], "nice": false, "zero": false}, "axis": null},
  "x2": {"datum": 2006.2},
  "y": {"datum": 0, "type": "quantitative", "scale": {"domain": [-1, 1], "nice": false, "zero": false}, "axis": null}
 }
},
{
 "data": {"name": "heading"},
 "mark": {"type": "text", "font": "Liberation Sans", "fontSize": 34, "fontWeight": "bold", "color": "#f2291c", "align": "center", "baseline": "middle"},
 "encoding": {
  "text": {"field": "label"},
  "x": {"field": "year", "type": "quantitative", "scale": {"domain": [1848.66, 2008.51], "nice": false, "zero": false}, "axis": null},
  "y": {"field": "v", "type": "quantitative", "scale": {"domain": [-1, 1], "nice": false, "zero": false}, "axis": null}
 }
},
{
 "data": {"name": "notes"},
 "mark": {"type": "text", "font": "Liberation Sans", "fontSize": 32, "color": "#333", "angle": 270, "align": "center", "baseline": "middle"},
 "encoding": {
  "text": {"field": "label"},
  "x": {"field": "year", "type": "quantitative", "scale": {"domain": [1848.66, 2008.51], "nice": false, "zero": false}, "axis": null},
  "y": {"field": "v", "type": "quantitative", "scale": {"domain": [-1, 1], "nice": false, "zero": false}, "axis": null}
 }
},
{
 "data": {"name": "arrows"},
 "mark": {"type": "line", "color": "#222", "strokeWidth": 2.5},
 "encoding": {
  "detail": {"field": "a"},
  "x": {"field": "year", "type": "quantitative", "scale": {"domain": [1848.66, 2008.51], "nice": false, "zero": false}, "axis": null},
  "y": {"field": "v", "type": "quantitative", "scale": {"domain": [-1, 1], "nice": false, "zero": false}, "axis": null}
 }
}
],
"resolve": {"axis": {"x": "independent", "y": "independent"}}
}
